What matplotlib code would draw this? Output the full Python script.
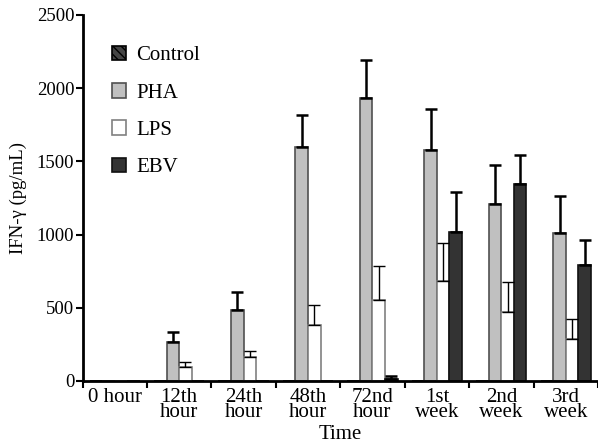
import numpy as np
import matplotlib.pyplot as plt

plt.rcParams['font.family'] = ['Liberation Serif', 'DejaVu Serif']

groups = ['0 hour', '12th\nhour', '24th\nhour', '48th\nhour', '72nd\nhour',
          '1st\nweek', '2nd\nweek', '3rd\nweek']
control = [0, 0, 0, 0, 0, 0, 0, 0]
control_err = [0, 0, 0, 0, 0, 0, 0, 0]
pha = [0, 265, 485, 1595, 1930, 1580, 1210, 1010]
pha_err = [0, 70, 125, 225, 260, 280, 265, 255]
lps = [0, 95, 165, 380, 550, 680, 470, 290]
lps_err = [0, 35, 40, 140, 235, 265, 205, 130]
ebv = [0, 0, 0, 0, 15, 1020, 1345, 795]
ebv_err = [0, 0, 0, 0, 20, 270, 200, 170]

fig = plt.figure(figsize=(5.98, 4.48), dpi=100)
ax = fig.add_axes([0.138, 0.1496, 0.862, 0.817])

x = np.arange(len(groups)) + 0.5
w = 0.195
series = [
    ('Control', control, control_err, dict(color='#444444', edgecolor='black', hatch='\\\\\\\\')),
    ('PHA', pha, pha_err, dict(color='#c0c0c0', edgecolor='#505050')),
    ('LPS', lps, lps_err, dict(color='white', edgecolor='#808080')),
    ('EBV', ebv, ebv_err, dict(color='#333333', edgecolor='#111111')),
]
for k, (name, vals, errs, style) in enumerate(series):
    pos = x + (k - 1.5) * w
    ax.bar(pos, vals, w, linewidth=1.2, label=name, zorder=2, **style)
    vals = np.array(vals)
    errs = np.array(errs)
    m = vals + errs > 0
    lw = 1.0 if name == 'LPS' else 1.8
    ax.errorbar(pos[m], vals[m], yerr=[np.zeros(m.sum()), errs[m]], fmt='none',
                ecolor='black', elinewidth=lw, capsize=4, capthick=lw, zorder=3)

ax.set_xlim(0, 8)
ax.set_ylim(0, 2500)
ax.set_yticks(range(0, 2501, 500))
ax.set_xticks(np.arange(0, 9))
ax.set_xticklabels([])
ax.set_xticks(x, minor=True)
ax.set_xticklabels(groups, minor=True, fontsize=15, linespacing=0.75, va='top')
ax.tick_params(axis='x', which='minor', length=0, pad=5)
ax.tick_params(axis='x', which='major', length=5, width=1.5, direction='out')
ax.tick_params(axis='y', length=5, width=1.5, labelsize=13.5, pad=1)
for s in ['top', 'right']:
    ax.spines[s].set_visible(False)
for s in ['left', 'bottom']:
    ax.spines[s].set_linewidth(2)

ax.set_ylabel('IFN-\u03b3 (pg/mL)', fontsize=13.5, labelpad=7)
ax.set_xlabel('Time', fontsize=15, labelpad=2)

ax.legend(loc='upper left', bbox_to_anchor=(0.02, 0.967), frameon=False,
          fontsize=15, labelspacing=0.85, handlelength=0.7, handleheight=0.7,
          handletextpad=0.5)

plt.savefig('out.png', dpi=100)
